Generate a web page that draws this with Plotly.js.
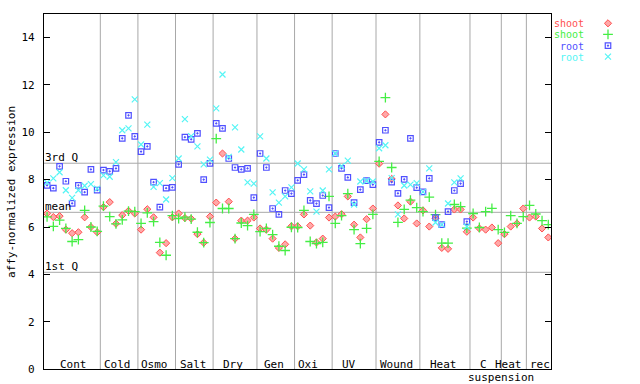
<!DOCTYPE html>
<html>
<head>
<meta charset="utf-8">
<script src="https://cdn.plot.ly/plotly-3.0.1.min.js"></script>
<style>html,body{margin:0;padding:0;background:#fff}#chart{width:640px;height:384px}</style>
</head>
<body>
<div id="chart"></div>
<script>
// ---- data ----
const groupNames = ['Cont','Cold','Osmo','Salt','Dry','Gen','Oxi','UV','Wound','Heat','C','Heat','rec'];
const groupSizes = [9,6,6,6,7,6,6,7,7,8,5,4,4];
const subLabel = 'suspension';

const shootA = [
  6.57,6.42,6.46,5.89,5.74,5.78,6.41,6.00,5.78,
  6.84,7.05,6.14,6.50,6.68,6.57,
  5.89,6.75,6.41,4.92,5.32,6.41,
  6.57,6.38,6.35,5.70,5.34,6.44,
  7.03,9.10,7.07,5.51,6.27,6.27,6.40,
  5.94,5.89,5.51,5.12,5.27,6.03,
  6.03,6.53,6.06,5.35,5.51,6.40,
  6.44,6.54,7.29,6.10,5.56,6.33,6.78,
  8.67,10.75,8.03,6.91,6.36,7.07,6.15,
  6.70,6.02,6.37,5.12,5.08,6.74,6.74,5.80,
  6.40,5.94,5.89,5.98,5.32,
  5.70,6.02,6.15,6.78,
  6.40,6.44,5.94,5.56
];
const shootB = [
  6.43,6.03,6.29,5.94,5.39,5.47,6.70,6.00,5.82,
  6.88,6.44,6.13,6.30,6.67,6.65,
  6.15,6.60,6.23,5.35,4.81,6.48,
  6.36,6.42,6.33,5.78,5.34,6.19,
  9.73,6.78,6.78,5.51,6.17,6.06,6.53,
  5.81,5.94,5.68,5.19,5.01,5.99,
  5.98,6.70,5.39,5.30,5.35,7.29,
  6.15,6.48,7.41,5.89,5.30,5.94,6.53,
  8.77,11.46,8.51,6.20,6.74,7.13,6.82,
  6.65,7.26,6.52,5.32,5.32,6.95,6.86,5.95,
  6.57,5.98,6.65,6.79,5.89,
  5.77,6.48,6.15,6.44,
  6.91,6.55,6.27,6.10
];
const rootA = [
  7.76,7.64,8.56,7.93,7.00,7.76,7.47,8.43,7.56,
  8.40,8.35,8.47,9.74,10.71,9.82,
  9.18,9.40,7.89,6.84,7.64,7.67,
  8.64,9.79,9.70,9.95,8.00,8.68,
  10.37,10.16,8.89,8.51,8.43,8.47,7.24,
  9.10,8.51,6.78,6.53,7.54,7.41,
  7.97,8.21,7.12,6.99,7.33,6.82,
  9.10,8.47,8.09,7.03,7.58,7.96,7.79,
  9.57,10.08,7.89,7.42,8.01,9.74,7.66,
  7.48,8.05,6.40,6.10,6.65,7.54,7.83,6.23,
  null,null,null,null,null,
  null,null,null,null,
  null,null,null,null
];
const rootB = [
  7.87,8.05,8.31,7.55,7.23,7.55,7.74,7.81,7.62,
  8.18,8.12,8.74,10.08,10.16,11.38,
  9.48,10.32,7.69,7.85,7.16,8.06,
  8.89,10.55,9.83,9.40,8.64,8.84,
  11.00,12.43,8.96,10.20,9.27,7.88,7.83,
  9.82,8.89,7.46,7.03,7.29,7.67,
  8.68,8.43,7.50,6.65,7.54,8.43,
  9.10,8.57,8.80,6.95,7.92,7.95,7.92,
  9.32,9.45,8.06,6.53,7.75,7.79,7.85,
  7.48,8.47,6.19,6.10,6.99,7.88,8.05,6.01,
  null,null,null,null,null,
  null,null,null,null,
  null,null,null,null
];
const seriesNames = ['shoot','shoot','root','root'];
const quartileNames = ['3rd Q','mean','1st Q'];
const quartileValues = [8.69, 6.62, 4.09];
const yTicks = [0,2,4,6,8,10,12,14];

// ---- build ----
const N = shootA.length;
const xs = Array.from({length:N}, (_, i) => i);
const font = 'DejaVu Sans Mono, monospace';
const colors = ['#ff5050', '#44ee44', '#5050ff', '#55f5f5'];
const markers = [
  {symbol:'diamond', size:5.5, color:'#ffa8a8', line:{color:colors[0], width:1}},
  {symbol:'cross-thin-open', size:7, color:colors[1], line:{color:colors[1], width:1.3}},
  {symbol:'square-open-dot', size:5.5, color:colors[2], line:{color:colors[2], width:1.2}},
  {symbol:'x-thin-open', size:6, color:colors[3], line:{color:colors[3], width:1.2}}
];
const allSeries = [shootA, shootB, rootA, rootB];
const legendIds = ['legend','legend2','legend3','legend4'];
const traces = allSeries.map((ys, k) => ({
  type:'scatter', mode:'markers', x:xs, y:ys, name:' ',
  marker:markers[k], legend:legendIds[k], showlegend:true, hoverinfo:'skip'
}));

// separators from group sizes
const shapes = [];
let cum = 0;
const centers = [];
groupSizes.forEach((s, g) => {
  centers.push(cum + (s - 1) / 2);
  cum += s;
  if (g < groupSizes.length - 1) {
    shapes.push({type:'line', xref:'x', yref:'y', x0:cum-0.5, x1:cum-0.5, y0:0, y1:15,
      line:{color:'#a8a8a8', width:1}, layer:'below'});
  }
});
quartileValues.forEach(v => shapes.push({type:'line', xref:'x', yref:'y', x0:-0.5, x1:N-0.5, y0:v, y1:v,
  line:{color:'#a8a8a8', width:1}, layer:'below'}));

const labelShift = [0.25,-0.2,-0.3,-0.2,-0.3,-0.25,-0.85,-0.85,-0.15,-0.25,-0.4,-0.85,0.15];
const annotations = [];
groupNames.forEach((n, g) => annotations.push({
  text:n, xref:'x', yref:'y', x:centers[g] + labelShift[g], y:0, yanchor:'middle', yshift:5,
  showarrow:false, font:{family:font, size:11, color:'#000'}
}));
annotations.push({text:subLabel, xref:'x', yref:'y', x:72.5, y:0, yanchor:'middle', yshift:-8,
  showarrow:false, font:{family:font, size:11, color:'#000'}});
quartileNames.forEach((n, k) => annotations.push({
  text:n, xref:'x', yref:'y', x:-0.5, y:quartileValues[k], xanchor:'left', yanchor:'bottom', yshift:-3, xshift:-1,
  showarrow:false, font:{family:font, size:11, color:'#000'}
}));
annotations.push({text:'affy-normalized expression', xref:'paper', yref:'paper', x:11.4/640, y:(384-191.7)/384,
  textangle:-90, showarrow:false, xanchor:'center', yanchor:'middle', font:{family:font, size:11, color:'#000'}});
const legY = [23.3, 34.3, 45.7, 56.7];
seriesNames.forEach((n, k) => annotations.push({
  text:n, xref:'paper', yref:'paper', x:585.5/640, y:(384-legY[k])/384, xanchor:'right', yanchor:'middle',
  height:10, borderpad:0, valign:'middle',
  showarrow:false, font:{family:font, size:10, color:colors[k]}
}));

const layout = {
  width:640, height:384,
  margin:{l:0, r:0, t:0, b:0},
  paper_bgcolor:'#fff', plot_bgcolor:'#fff',
  font:{family:font, size:11, color:'#000'},
  xaxis:{domain:[44/640, 552.3/640], range:[-0.5, N-0.5], showticklabels:false, ticks:'',
    showgrid:false, zeroline:false, showline:true, mirror:true, linecolor:'#000', linewidth:1},
  yaxis:{domain:[(384-369.3)/384, (384-13.6)/384], range:[0,15], tickvals:yTicks, ticks:'inside', ticklen:6,
    tickcolor:'#000', showgrid:false, zeroline:false, showline:true, mirror:'ticks', linecolor:'#000', linewidth:1,
    tickfont:{family:font, size:11, color:'#000'}, ticklabelstandoff:6},
  shapes:shapes,
  annotations:annotations
};
legendIds.forEach((id, k) => {
  layout[id] = {x:(609.3-20)/640, xanchor:'left', y:(384-legY[k])/384, yanchor:'middle',
    bgcolor:'rgba(0,0,0,0)', borderwidth:0, font:{family:font, size:11}, itemwidth:30};
});
Plotly.newPlot('chart', traces, layout, {staticPlot:true, displayModeBar:false});
</script>
</body>
</html>
